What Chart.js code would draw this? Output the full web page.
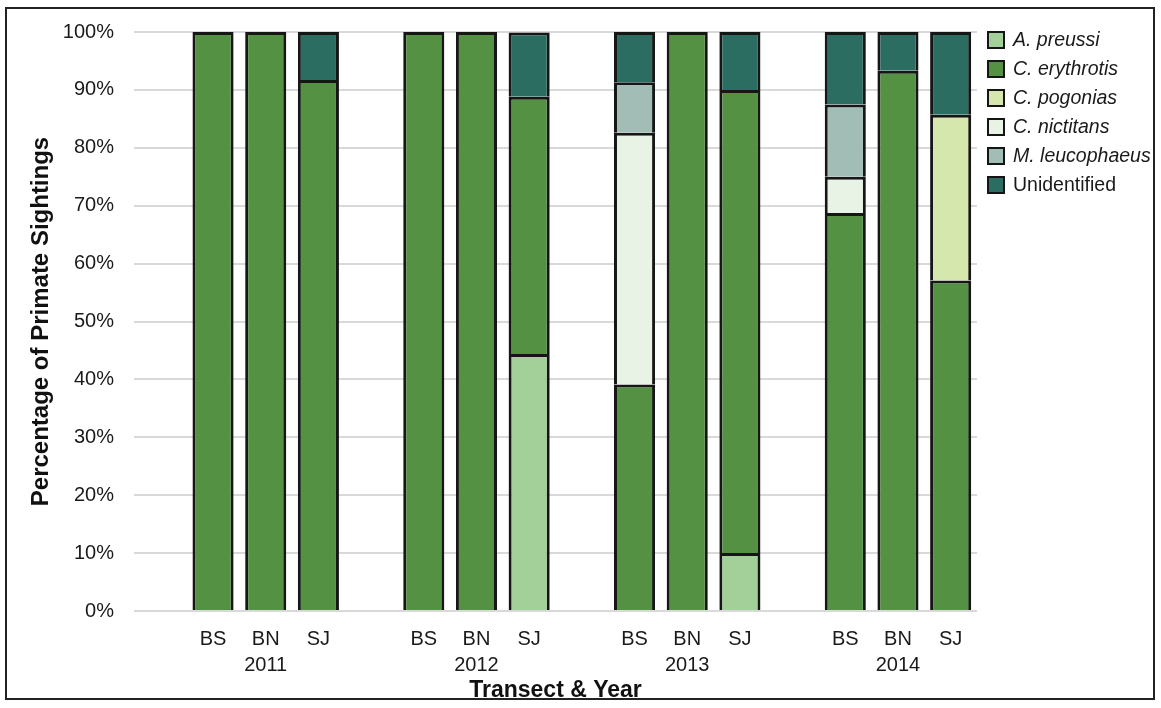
<!DOCTYPE html>
<html>
<head>
<meta charset="utf-8">
<script src="https://cdn.jsdelivr.net/npm/chart.js@4"></script>
<style>
  html, body { margin: 0; padding: 0; background: #fff; }
  #wrap { position: relative; width: 1161px; height: 708px; }
</style>
</head>
<body>
<div id="wrap"><canvas id="primateChart" width="1161" height="708"></canvas></div>
<script>
// bars in order: 2011 BS,BN,SJ / 2012 BS,BN,SJ / 2013 ... / 2014 ...
const transects = ['BS', 'BN', 'SJ'];
const years = ['2011', '2012', '2013', '2014'];

const speciesNames = ['A. preussi', 'C. erythrotis', 'C. pogonias', 'C. nictitans', 'M. leucophaeus', 'Unidentified'];
const speciesColors = ['#a3cf98', '#559143', '#d6e7ad', '#e9f3e5', '#a2bcb6', '#2b6d61'];

const preussi      = [null, null, null,   null, null, 44.4,   null, null, 10,     null, null, null];
const erythrotis   = [100, 100, 91.7,     100, 100, 44.4,     39.1, 100, 80,      68.75, 93.3, 57.1];
const pogonias     = [null, null, null,   null, null, null,   null, null, null,   null, null, 28.6];
const nictitans    = [null, null, null,   null, null, null,   43.5, null, null,   6.25, null, null];
const leucophaeus  = [null, null, null,   null, null, null,   8.7, null, null,    12.5, null, null];
const unidentified = [null, null, 8.3,    null, null, 11.1,   8.7, null, 10,      12.5, 6.7, 14.3];

const seriesValues = [preussi, erythrotis, pogonias, nictitans, leucophaeus, unidentified];

// an empty slot before every year group
const labels = [];
years.forEach(yr => {
  labels.push('');
  transects.forEach((t, i) => labels.push(i === 1 ? [t, yr] : t));
});

function withGaps(vals) {
  const out = [];
  for (let g = 0; g < years.length; g++) {
    out.push(null);
    for (let i = 0; i < transects.length; i++) out.push(vals[g * 3 + i]);
  }
  return out;
}

const datasets = speciesNames.map((name, i) => ({
  label: name,
  data: withGaps(seriesValues[i]),
  backgroundColor: speciesColors[i],
  borderColor: '#161616',
  borderWidth: 3,
  categoryPercentage: 0.78,
  barPercentage: 1
}));

const fontFamily = "'Liberation Sans', Arial, sans-serif";

// legend with italic species names + outer frame
const sideLegend = {
  id: 'sideLegend',
  afterDraw(chart) {
    const ctx = chart.ctx;
    ctx.save();
    ctx.strokeStyle = '#222';
    ctx.lineWidth = 2;
    ctx.strokeRect(6, 8, 1148, 691);

    const x0 = 988, y0 = 40, step = 29, box = 16;
    ctx.textBaseline = 'middle';
    chart.data.datasets.forEach((ds, i) => {
      const y = y0 + i * step;
      ctx.fillStyle = ds.backgroundColor;
      ctx.fillRect(x0, y - box / 2, box, box);
      ctx.strokeStyle = '#151515';
      ctx.lineWidth = 2;
      ctx.strokeRect(x0, y - box / 2, box, box);
      ctx.fillStyle = '#1a1a1a';
      ctx.font = (ds.label === 'Unidentified' ? '' : 'italic ') + '19.5px ' + fontFamily;
      ctx.fillText(ds.label, x0 + 25, y + 1);
    });
    ctx.restore();
  }
};

new Chart(document.getElementById('primateChart'), {
  type: 'bar',
  data: { labels: labels, datasets: datasets },
  plugins: [sideLegend],
  options: {
    responsive: false,
    animation: false,
    layout: { padding: { left: 27, right: 184, top: 22, bottom: 4 } },
    plugins: {
      legend: { display: false },
      tooltip: { enabled: false }
    },
    scales: {
      x: {
        stacked: true,
        afterFit: scale => { scale.height = 93; },
        grid: { display: false },
        border: { display: false },
        ticks: {
          color: '#1a1a1a',
          font: { family: fontFamily, size: 20, lineHeight: 1.3 },
          maxRotation: 0,
          autoSkip: false,
          padding: 7
        },
        title: {
          display: true,
          text: 'Transect & Year',
          color: '#111',
          font: { family: fontFamily, size: 23, weight: 'bold' },
          padding: { top: 0, bottom: 0 }
        }
      },
      y: {
        stacked: true,
        min: 0,
        max: 100,
        afterFit: scale => { scale.width = 107; },
        grid: { color: '#d9d9d9', lineWidth: 2, drawTicks: false },
        border: { display: false },
        ticks: {
          stepSize: 10,
          color: '#1a1a1a',
          font: { family: fontFamily, size: 20 },
          padding: 20,
          callback: v => v + '%'
        },
        title: {
          display: true,
          text: 'Percentage of Primate Sightings',
          color: '#111',
          font: { family: fontFamily, size: 24, weight: 'bold' },
          padding: { top: 0, bottom: 7 }
        }
      }
    }
  }
});
</script>
</body>
</html>
